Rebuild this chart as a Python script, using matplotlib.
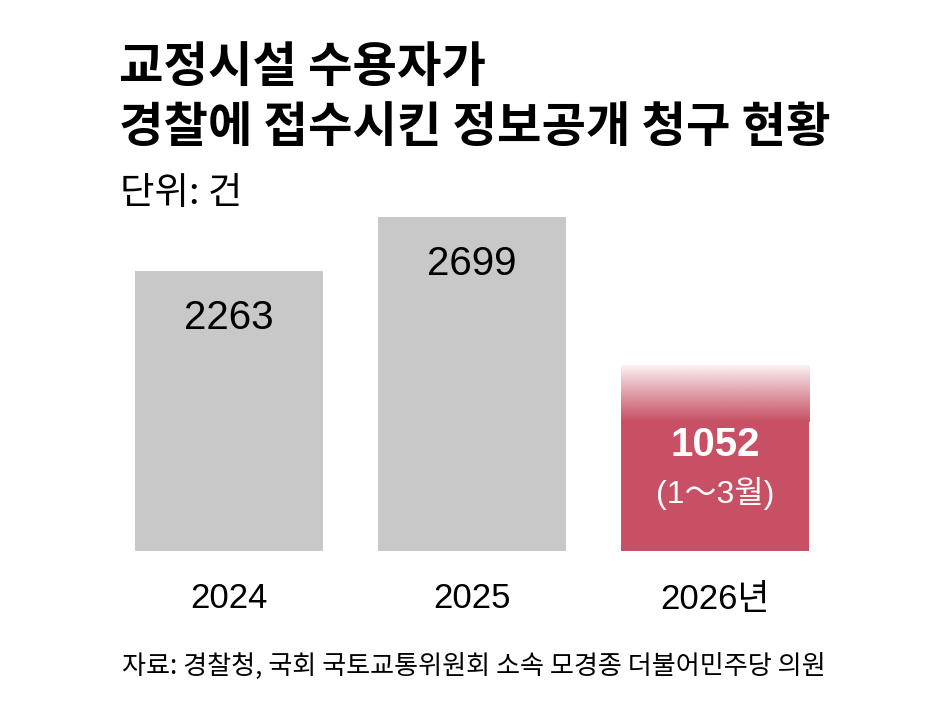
import numpy as np
import matplotlib
matplotlib.use("Agg")
import matplotlib.pyplot as plt

# data
years = ["2024", "2025", "2026년"]
counts = [2263, 2699, 1052]
note_2026 = "(1～3월)"
title_lines = ["교정시설 수용자가", "경찰에 접수시킨 정보공개 청구 현황"]
unit_text = "단위: 건"
source_text = "자료: 경찰청, 국회 국토교통위원회 소속 모경종 더불어민주당 의원"

KR = "Noto Sans CJK KR"
NUM = ["Liberation Sans", KR]
GRAY = "#c8c8c8"
RED = "#c85064"

W, H = 946, 710
fig = plt.figure(figsize=(W / 100, H / 100), dpi=100)
fig.patch.set_facecolor("white")

# axes fill whole figure, limits chosen so bars land where they should
ax = fig.add_axes([0, 0, 1, 1])
scale = 8.08          # units per pixel
x0, step = 229, 243   # pixel centre of first bar, spacing
base = 551            # pixel of zero line
xlim = (-x0 / step, (W - x0) / step)
ylim = (-(H - base) * scale, base * scale)
ax.axis("off")

xs = np.arange(len(counts))
colors = [GRAY, GRAY, RED]
ax.bar(xs, counts, width=0.775, color=colors, linewidth=0)

# fading top on the unfinished year
grad_top = 1500
rgba = np.zeros((100, 1, 4))
r, g, b, _ = matplotlib.colors.to_rgba(RED)
rgba[..., 0], rgba[..., 1], rgba[..., 2] = r, g, b
rgba[:, 0, 3] = np.linspace(0.05, 1, 100) ** 0.9
ax.imshow(rgba, extent=[xs[2] - 0.3875, xs[2] + 0.3875, counts[2] - 10, grad_top],
          aspect="auto", interpolation="bilinear", zorder=2)
ax.set_xlim(*xlim)
ax.set_ylim(*ylim)

# value labels
for i in range(2):
    ax.annotate(str(counts[i]), (xs[i], counts[i]), xytext=(0, -47),
                textcoords="offset pixels", ha="center", va="center",
                fontsize=29, family=NUM, color="black")
ax.annotate(str(counts[2]), (xs[2], counts[2]), xytext=(0, -24),
            textcoords="offset pixels", ha="center", va="center",
            fontsize=29, family=NUM, weight="bold", color="white", zorder=3)
ax.annotate(note_2026, (xs[2], counts[2]), xytext=(0, -73),
            textcoords="offset pixels", ha="center", va="center",
            fontsize=23, family=NUM, color="white", zorder=3)

# year labels
for i, lab in enumerate(years):
    ax.annotate(lab, (xs[i], 0), xytext=(0, -48), textcoords="offset pixels",
                ha="center", va="center", fontsize=25, family=NUM, color="black")


def fy(py):
    return 1 - py / H


fig.text(119 / W, fy(68), title_lines[0], fontsize=34.8, weight="heavy",
         family=KR, ha="left", va="center")
fig.text(119 / W, fy(128), title_lines[1], fontsize=34.8, weight="heavy",
         family=KR, ha="left", va="center")
fig.text(120 / W, fy(193), unit_text, fontsize=27, family=KR,
         ha="left", va="center")
fig.text(122 / W, fy(667), source_text, fontsize=18.8, family=KR,
         ha="left", va="center")

fig.savefig("out.png", dpi=100, facecolor="white")
